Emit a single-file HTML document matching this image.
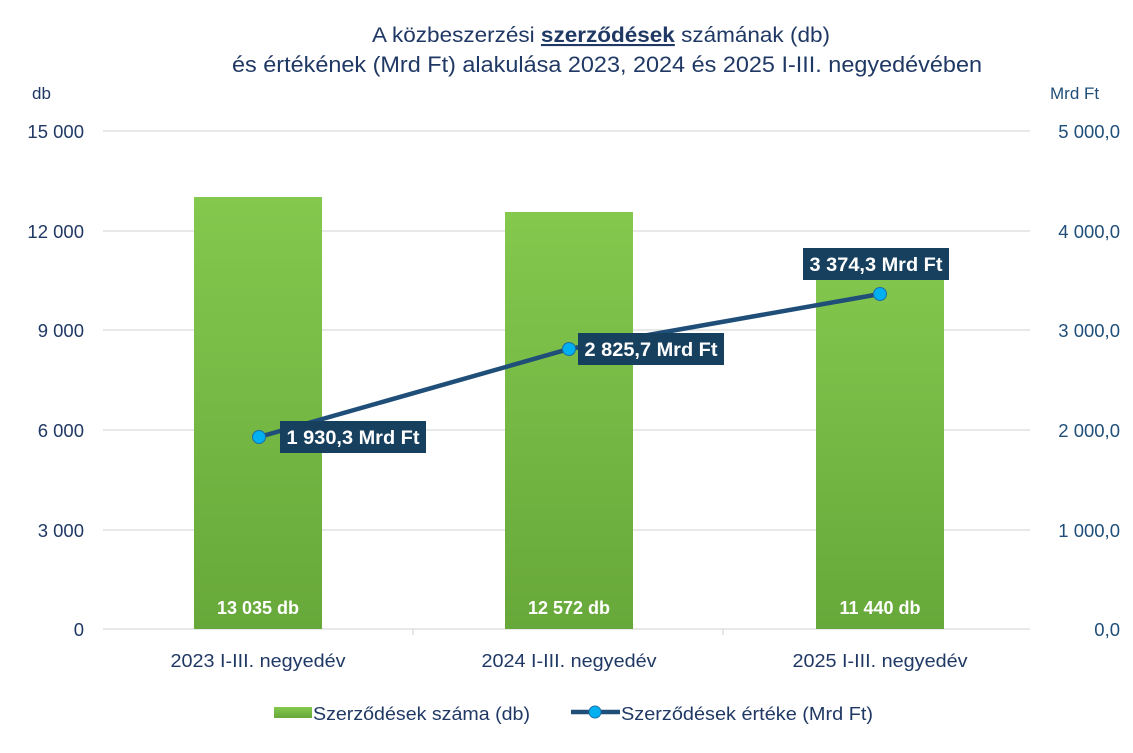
<!DOCTYPE html>
<html><head><meta charset="utf-8"><style>
body{margin:0;background:#fff}
svg text{font-family:"Liberation Sans",sans-serif}
</style></head><body>
<svg width="1133" height="748" viewBox="0 0 1133 748" xmlns="http://www.w3.org/2000/svg">
<defs>
<linearGradient id="g" x1="0" y1="0" x2="0" y2="1">
<stop offset="0" stop-color="#84c84e"/><stop offset="1" stop-color="#67a83a"/>
</linearGradient>
</defs>
<rect width="1133" height="748" fill="#fff"/>
<text x="601" y="42" text-anchor="middle" font-size="21" fill="#1f3864" textLength="458" lengthAdjust="spacingAndGlyphs">A közbeszerzési <tspan font-weight="bold" text-decoration="underline">szerződések</tspan> számának (db)</text>
<text x="607" y="72" text-anchor="middle" font-size="22" fill="#1f3864" textLength="750" lengthAdjust="spacingAndGlyphs">és értékének (Mrd Ft) alakulása 2023, 2024 és 2025 I-III. negyedévében</text>
<text x="32" y="99" font-size="17" fill="#1f3864">db</text>
<text x="1050" y="99" font-size="17" fill="#1f4e79">Mrd Ft</text>
<g stroke="#d9d9d9" stroke-width="1.3">
<line x1="103" y1="131" x2="1030" y2="131"/><line x1="103" y1="231" x2="1030" y2="231"/>
<line x1="103" y1="330" x2="1030" y2="330"/><line x1="103" y1="430" x2="1030" y2="430"/>
<line x1="103" y1="530" x2="1030" y2="530"/><line x1="103" y1="629" x2="1030" y2="629"/>
<line x1="413" y1="629" x2="413" y2="635"/><line x1="723" y1="629" x2="723" y2="635"/>
</g>
<g font-size="18.5" fill="#1f3864" text-anchor="end">
<text x="84" y="138">15 000</text><text x="84" y="238">12 000</text><text x="84" y="337">9 000</text>
<text x="84" y="437">6 000</text><text x="84" y="537">3 000</text><text x="84" y="636">0</text>
</g>
<g font-size="18.5" fill="#1f4e79" text-anchor="end">
<text x="1120" y="138">5 000,0</text><text x="1120" y="238">4 000,0</text><text x="1120" y="337">3 000,0</text>
<text x="1120" y="437">2 000,0</text><text x="1120" y="537">1 000,0</text><text x="1120" y="636">0,0</text>
</g>
<rect x="194" y="197" width="128" height="432" fill="url(#g)"/>
<rect x="505" y="212" width="128" height="417" fill="url(#g)"/>
<rect x="816" y="250" width="128" height="379" fill="url(#g)"/>
<g font-size="18" font-weight="bold" fill="#fff" text-anchor="middle">
<text x="258" y="614">13 035 db</text><text x="569" y="614">12 572 db</text><text x="880" y="614">11 440 db</text>
</g>
<polyline points="259,437 569,349 880,294" fill="none" stroke="#1f4e79" stroke-width="4.5"/>
<g fill="#00b0f0" stroke="#1f6ea8" stroke-width="1">
<circle cx="259" cy="437" r="6.5"/><circle cx="569" cy="349" r="6.5"/><circle cx="880" cy="294" r="6.5"/>
</g>
<g fill="#17405e">
<rect x="280" y="421" width="146" height="32"/>
<rect x="578" y="333" width="146" height="32"/>
<rect x="803" y="248" width="146" height="32"/>
</g>
<g font-size="19" font-weight="bold" fill="#fff" text-anchor="middle">
<text x="353" y="444" textLength="133" lengthAdjust="spacingAndGlyphs">1 930,3 Mrd Ft</text>
<text x="651" y="356" textLength="133" lengthAdjust="spacingAndGlyphs">2 825,7 Mrd Ft</text>
<text x="876" y="271" textLength="133" lengthAdjust="spacingAndGlyphs">3 374,3 Mrd Ft</text>
</g>
<g font-size="18.5" fill="#1f3864" text-anchor="middle">
<text x="258" y="667" textLength="175" lengthAdjust="spacingAndGlyphs">2023 I-III. negyedév</text>
<text x="569" y="667" textLength="175" lengthAdjust="spacingAndGlyphs">2024 I-III. negyedév</text>
<text x="880" y="667" textLength="175" lengthAdjust="spacingAndGlyphs">2025 I-III. negyedév</text>
</g>
<rect x="274" y="707" width="38" height="11" fill="url(#g)"/>
<text x="313" y="720" font-size="18.5" fill="#1f3864" textLength="217" lengthAdjust="spacingAndGlyphs">Szerződések száma (db)</text>
<line x1="571" y1="712" x2="620" y2="712" stroke="#1f4e79" stroke-width="4.5"/>
<circle cx="595" cy="712" r="6" fill="#00b0f0" stroke="#1f6ea8"/>
<text x="621" y="720" font-size="18.5" fill="#1f3864" textLength="252" lengthAdjust="spacingAndGlyphs">Szerződések értéke (Mrd Ft)</text>
</svg>
</body></html>
